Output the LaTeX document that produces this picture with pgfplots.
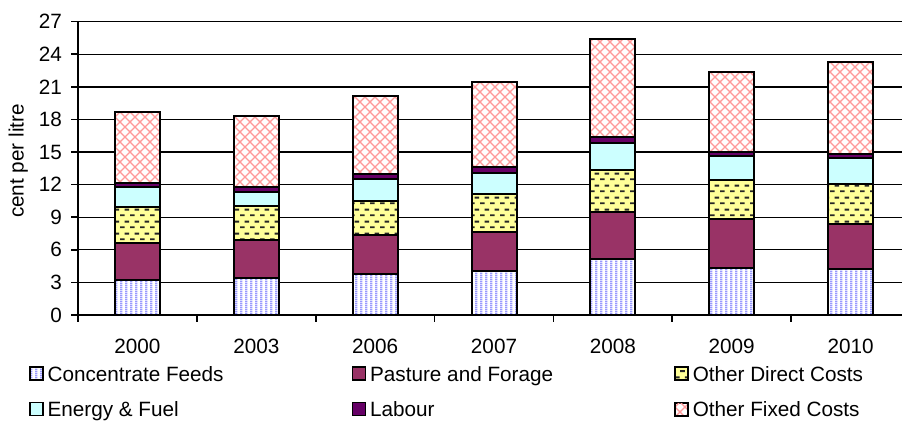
\documentclass[border=0pt]{standalone}
\usepackage{fontspec}
\setmainfont{Liberation Sans}
\usepackage{pgfplots}
\pgfplotsset{compat=1.18}
\usetikzlibrary{patterns}

\definecolor{cfblue}{HTML}{9999FF}
\definecolor{pasture}{HTML}{993366}
\definecolor{odyellow}{HTML}{FFFF99}
\definecolor{energy}{HTML}{CCFFFF}
\definecolor{labour}{HTML}{660066}
\definecolor{fixedpink}{HTML}{FF9999}

\newcommand\cf{\fontsize{20.7}{24.8}\selectfont}

% fills copied from the spreadsheet: stripes, short dashes, diagonal lattice
\pgfdeclarepatternformonly{vstripes}{\pgfpointorigin}{\pgfpoint{5pt}{2pt}}{\pgfpoint{5pt}{2pt}}{
  \pgfpathrectangle{\pgfpointorigin}{\pgfpoint{2.8pt}{2pt}}
  \pgfusepath{fill}
}
\pgfdeclarepatternformonly{dashrows}{\pgfpointorigin}{\pgfpoint{10pt}{12pt}}{\pgfpoint{10pt}{12pt}}{
  \pgfpathrectangle{\pgfpoint{0.2pt}{2pt}}{\pgfpoint{4.8pt}{2pt}}
  \pgfpathrectangle{\pgfpoint{5.2pt}{8pt}}{\pgfpoint{4.8pt}{2pt}}
  \pgfusepath{fill}
}
\pgfdeclarepatternformonly{lattice}{\pgfpoint{-1pt}{-1pt}}{\pgfpoint{11pt}{11pt}}{\pgfpoint{10pt}{10pt}}{
  \pgfsetlinewidth{1.3pt}
  \pgfpathmoveto{\pgfpoint{-1pt}{-1pt}}
  \pgfpathlineto{\pgfpoint{11pt}{11pt}}
  \pgfpathmoveto{\pgfpoint{-1pt}{11pt}}
  \pgfpathlineto{\pgfpoint{11pt}{-1pt}}
  \pgfusepath{stroke}
}

\pgfplotstableread{
yr cf pf od ef lab ofc
0 3.22 3.38 3.37 1.78 0.37 6.57
1 3.43 3.47 3.13 1.32 0.46 6.54
2 3.74 3.62 3.16 2.00 0.43 7.21
3 4.08 3.53 3.50 1.99 0.49 7.83
4 5.13 4.32 3.90 2.45 0.56 9.02
5 4.30 4.54 3.59 2.24 0.30 7.37
6 4.21 4.17 3.68 2.42 0.34 8.50
}\costs

\begin{document}
\begin{tikzpicture}
\begin{axis}[
  scale only axis,
  width=824pt, height=293.3pt,
  xmin=-0.5, xmax=6.4326,
  ymin=0, ymax=27,
  ybar stacked, bar width=45pt,
  axis x line=bottom, axis y line=left,
  axis line style={-, line width=2pt},
  ytick={0,3,...,27},
  ymajorgrids,
  grid style={black, line width=1.3pt},
  xtick={0,...,6},
  xticklabels={2000,2003,2006,2007,2008,2009,2010},
  minor xtick={-0.5,0.5,...,5.5},
  tick align=outside,
  major tick length=6.6pt, minor tick length=6.6pt,
  major x tick style={draw=none},
  minor x tick style={black, line width=1.6pt},
  ytick style={black, line width=1.6pt},
  tick label style={font=\cf},
  /pgf/number format/assume math mode=true,
  yticklabel style={anchor=east, inner sep=0pt, xshift=-9.4pt},
  xticklabel style={anchor=north, inner sep=0pt, yshift=-17.6pt},
  ylabel={cent per litre},
  ylabel style={font=\cf, at={(axis description cs:-0.0726,0.525)}, anchor=center},
  legend columns=3,
  legend cell align=left,
  legend style={
    at={(axis description cs:-0.0595,-0.168)}, anchor=north west,
    draw=none, fill=none, inner sep=0pt, outer sep=0pt,
    font=\cf, row sep=16.5pt,
    nodes={inner sep=0pt},
    /tikz/every odd column/.append style={column sep=4pt},
    /tikz/every even column/.append style={column sep=0pt},
  },
  legend image code/.code={
    \draw[#1, draw=black, line width=1.6pt] (0pt,-6.5pt) rectangle (13pt,6.5pt);
  },
]
\addplot[draw=black, line width=2pt, pattern=vstripes, pattern color=cfblue,
  preaction={fill=white}]
  table[x=yr, y=cf]{\costs};
\addlegendentry{\makebox[304pt][l]{\strut Concentrate Feeds}}
\addplot[draw=black, line width=2pt, fill=pasture]
  table[x=yr, y=pf]{\costs};
\addlegendentry{\makebox[304pt][l]{\strut Pasture and Forage}}
\addplot[draw=black, line width=2pt, pattern=dashrows, pattern color=black!85,
  preaction={fill=odyellow}]
  table[x=yr, y=od]{\costs};
\addlegendentry{\makebox[304pt][l]{\strut Other Direct Costs}}
\addplot[draw=black, line width=2pt, fill=energy]
  table[x=yr, y=ef]{\costs};
\addlegendentry{\makebox[304pt][l]{\strut Energy \& Fuel}}
\addplot[draw=black, line width=2pt, fill=labour]
  table[x=yr, y=lab]{\costs};
\addlegendentry{\makebox[304pt][l]{\strut Labour}}
\addplot[draw=black, line width=2pt, pattern=lattice, pattern color=fixedpink,
  preaction={fill=white}]
  table[x=yr, y=ofc]{\costs};
\addlegendentry{\makebox[304pt][l]{\strut Other Fixed Costs}}
\end{axis}
\pgfresetboundingbox
\path[use as bounding box] (-78pt,-107pt) rectangle (824pt,315pt);
\end{tikzpicture}
\end{document}
